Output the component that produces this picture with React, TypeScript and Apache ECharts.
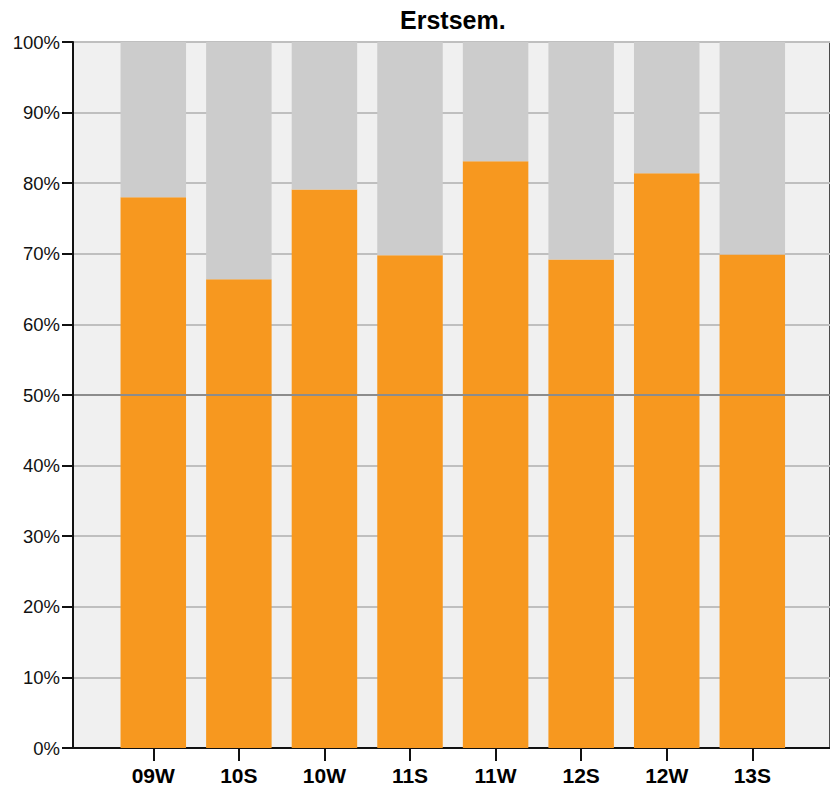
import React, { useEffect, useRef } from "react";
import * as echarts from "echarts";

const categories = ["09W", "10S", "10W", "11S", "11W", "12S", "12W", "13S"];
const firstSemShare = [78.0, 66.4, 79.1, 69.8, 83.1, 69.2, 81.4, 69.9];
const remainderShare = firstSemShare.map((v) => +(100 - v).toFixed(1));
const yTicks = [0, 10, 20, 30, 40, 50, 60, 70, 80, 90, 100];
const titleText = "Erstsem.";

const FONT = "'Liberation Sans', Arial, sans-serif";

export default function App() {
  const ref = useRef<HTMLDivElement>(null);
  useEffect(() => {
    if (!ref.current) return;
    const chart = echarts.init(ref.current, undefined, { renderer: "svg" });
    const gridColors = yTicks.map((t) => (t === 50 ? "#8c8c8c" : "#bfbfbf"));
    chart.setOption({
      animation: false,
      backgroundColor: "#ffffff",
      title: {
        text: titleText,
        left: 400,
        top: 7,
        padding: 0,
        textStyle: { fontFamily: FONT, fontWeight: "bold", fontSize: 25, color: "#000" },
      },
      grid: [
        {
          left: 73,
          right: -6,
          top: 42,
          bottom: 40,
          show: true,
          backgroundColor: "#f0f0f0",
          borderColor: "#4a4a4a",
          borderWidth: 2,
        },
        {
          left: 110.5,
          width: 684.6,
          top: 42,
          bottom: 40,
        },
      ],
      xAxis: [
        {
          gridIndex: 0,
          type: "value",
          min: 0,
          max: 1,
          axisLine: { show: true, onZero: false, lineStyle: { color: "#111", width: 2 } },
          axisTick: { show: false },
          axisLabel: { show: false },
          splitLine: { show: false },
        },
        {
          gridIndex: 1,
          type: "category",
          data: categories,
          axisLine: { show: false },
          axisTick: { show: true, alignWithLabel: true, length: 13, lineStyle: { color: "#111", width: 2 } },
          axisLabel: {
            margin: 17,
            fontFamily: FONT,
            fontWeight: "bold",
            fontSize: 21,
            color: "#000",
          },
          splitLine: { show: false },
        },
      ],
      yAxis: [
        {
          gridIndex: 0,
          type: "value",
          min: 0,
          max: 100,
          interval: 10,
          axisLine: { show: true, lineStyle: { color: "#111", width: 2 } },
          axisTick: { show: true, length: 11, lineStyle: { color: "#111", width: 2 } },
          axisLabel: {
            formatter: "{value}%",
            margin: 13,
            fontFamily: FONT,
            fontSize: 18.5,
            color: "#111",
          },
          splitLine: { show: true, lineStyle: { color: gridColors, width: 2 } },
        },
        {
          gridIndex: 1,
          type: "value",
          min: 0,
          max: 100,
          interval: 10,
          axisLine: { show: false },
          axisTick: { show: false },
          axisLabel: { show: false },
          splitLine: { show: false },
        },
      ],
      series: [
        {
          name: "Erstsem.",
          type: "bar",
          xAxisIndex: 1,
          yAxisIndex: 1,
          stack: "s",
          barWidth: 65.5,
          data: firstSemShare,
          itemStyle: { color: "#F7981F" },
          markLine: {
            silent: true,
            symbol: "none",
            label: { show: false },
            lineStyle: { color: "#8c8c8c", width: 2, type: "solid" },
            data: [{ yAxis: 50 }],
          },
        },
        {
          name: "Rest",
          type: "bar",
          xAxisIndex: 1,
          yAxisIndex: 1,
          stack: "s",
          barWidth: 65.5,
          data: remainderShare,
          itemStyle: { color: "#CCCCCC" },
        },
      ],
    });
    return () => chart.dispose();
  }, []);
  return (
    <div
      ref={ref}
      style={{ position: "fixed", left: 0, top: 0, width: 830, height: 788 }}
    />
  );
}
